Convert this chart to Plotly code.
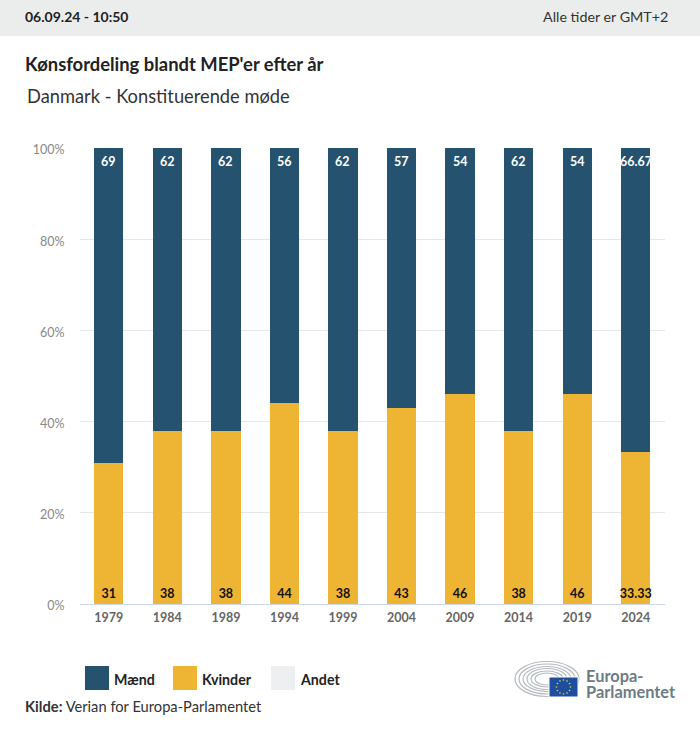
import math
import plotly.graph_objects as go

years = ["1979", "1984", "1989", "1994", "1999", "2004", "2009", "2014", "2019", "2024"]
maend = [69, 62, 62, 56, 62, 57, 54, 62, 54, 66.67]
kvinder = [31, 38, 38, 44, 38, 43, 46, 38, 46, 33.33]
andet = [0, 0, 0, 0, 0, 0, 0, 0, 0, 0]
y_ticks = [0, 20, 40, 60, 80, 100]

W, H = 700, 731
FONT = "Lato"
BLUE, YELLOW, GREY = "#25536f", "#eeb433", "#eeeff1"


def px(x):
    return x / W


def py(y):
    return 1 - y / H


fig = go.Figure()
fig.add_bar(name="Kvinder", x=years, y=kvinder, marker_color=YELLOW, marker_line_width=0,
            text=[str(v) for v in kvinder], textposition="inside", insidetextanchor="start",
            textangle=0, constraintext="none",
            insidetextfont=dict(family=FONT, size=12.5, color="#111111", weight="bold"),
            hoverinfo="skip")
fig.add_bar(name="Mænd", x=years, y=maend, marker_color=BLUE, marker_line_width=0, hoverinfo="skip")
fig.add_bar(name="Andet", x=years, y=andet, marker_color=GREY, marker_line_width=0, hoverinfo="skip")

shapes = [
    dict(type="rect", xref="paper", yref="paper", x0=0, x1=1, y0=py(36), y1=1,
         fillcolor="#ebeded", line_width=0, layer="below")
]
annots = []

for i, (m, k) in enumerate(zip(maend, kvinder)):
    annots.append(dict(xref="x", yref="y", x=i, y=m + k, text=str(m), showarrow=False,
                       yanchor="top", yshift=-4,
                       font=dict(family=FONT, size=12.5, color="#ffffff", weight="bold")))


def text(x, y, s, size, color="#222222", bold=False, anchor="left"):
    annots.append(dict(xref="paper", yref="paper", x=px(x), y=py(y), text=s, showarrow=False,
                       xanchor=anchor, yanchor="middle", align="left",
                       xshift=-2 if anchor == "left" else 2,
                       font=dict(family=FONT, size=size, color=color, weight="bold" if bold else "normal")))


text(25, 16, "06.09.24 - 10:50", 14, "#222222", True)
text(668, 16, "Alle tider er GMT+2", 14.3, "#333333", False, "right")
text(25, 64, "Kønsfordeling blandt MEP'er efter år", 18.4, "#222222", True)
text(27, 96, "Danmark - Konstituerende møde", 18.3, "#333333")

for sx, col, label in [(85, BLUE, "Mænd"), (173, YELLOW, "Kvinder"), (271, GREY, "Andet")]:
    shapes.append(dict(type="rect", xref="paper", yref="paper", x0=px(sx), x1=px(sx + 24),
                       y0=py(690), y1=py(666), fillcolor=col, line_width=0))
    text(sx + 29, 679, label, 14.2, "#222222", True)

annots.append(dict(xref="paper", yref="paper", x=px(25), y=py(706), xshift=-2,
                   text="<b>Kilde:</b> Verian for Europa-Parlamentet", showarrow=False,
                   xanchor="left", yanchor="middle",
                   font=dict(family=FONT, size=14.7, color="#333333")))

# Europa-Parlamentet logo
for i, (rx, ry) in enumerate([(32, 17.5), (28, 15), (24, 12.5), (20, 10.5), (16, 8), (12, 6)]):
    cx, cy = 547, 679
    shapes.append(dict(type="circle", xref="paper", yref="paper", x0=px(cx - rx), x1=px(cx + rx),
                       y0=py(cy + ry), y1=py(cy - ry), fillcolor="rgba(0,0,0,0)",
                       line=dict(color="#b4bcc1", width=1.2)))
shapes.append(dict(type="rect", xref="paper", yref="paper", x0=px(549), x1=px(578), y0=py(697), y1=py(677),
                   fillcolor="#1f4e9c", line=dict(color="#ffffff", width=1)))
for k in range(12):
    a = 2 * math.pi * k / 12
    sx, sy = 563.5 + 7 * math.cos(a), 687 + 7 * math.sin(a)
    shapes.append(dict(type="circle", xref="paper", yref="paper", x0=px(sx - 0.8), x1=px(sx + 0.8),
                       y0=py(sy + 0.8), y1=py(sy - 0.8), fillcolor="#f5d33a", line_width=0))
text(586, 675, "Europa-", 16.4, "#6d7b85", True)
text(586, 691.5, "Parlamentet", 16.4, "#6d7b85", True)

fig.update_layout(
    width=W, height=H, autosize=False,
    margin=dict(l=0, r=0, t=0, b=0, pad=0),
    paper_bgcolor="#ffffff", plot_bgcolor="#ffffff",
    barmode="stack", bargap=0.5, showlegend=False,
    shapes=shapes, annotations=annots,
    font=dict(family=FONT),
    xaxis=dict(domain=[px(79.5), px(665)], type="category", showgrid=False, ticks="", automargin=False,
               showline=True, linecolor="#ccd6eb", linewidth=1, ticklabelstandoff=2,
               tickfont=dict(family=FONT, size=12.5, color="#666666", weight="bold")),
    yaxis=dict(domain=[py(604), py(148)], range=[0, 100], tickvals=y_ticks, automargin=False,
               ticktext=[f"{v}%" for v in y_ticks], showgrid=True, gridcolor="#e6e6e6", gridwidth=1,
               zeroline=False, ticks="", ticklabelstandoff=14, ticklabelshift=2,
               tickfont=dict(family=FONT, size=12.5, color="#888888")),
)
fig.write_html("out.html", default_width="700px", default_height="731px",
               post_script="document.documentElement.style.margin='0';document.body.style.margin='0';",
               config=dict(displayModeBar=False, responsive=False))
